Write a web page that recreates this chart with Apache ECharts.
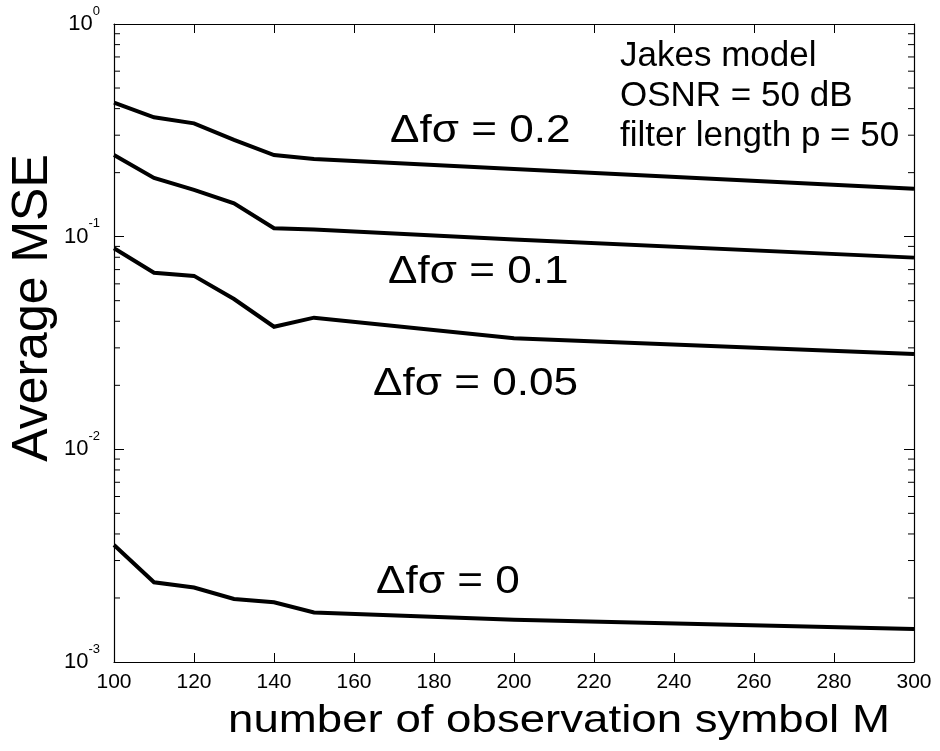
<!DOCTYPE html>
<html>
<head>
<meta charset="utf-8">
<script src="https://cdn.jsdelivr.net/npm/echarts@6/dist/echarts.min.js"></script>
<style>
  html, body { margin: 0; padding: 0; background: #ffffff; }
  #chart { width: 940px; height: 751px; }
</style>
</head>
<body>
<div id="chart"></div>
<script>
// ---- data ----
var symbolsM = [100, 110, 120, 130, 140, 150, 200, 300];
var mseDf02  = [0.427, 0.364, 0.341, 0.285, 0.242, 0.232, 0.208, 0.168];
var mseDf01  = [0.242, 0.189, 0.166, 0.1435, 0.1095, 0.108, 0.097, 0.0797];
var mseDf005 = [0.0882, 0.0677, 0.0654, 0.0509, 0.0377, 0.0416, 0.0333, 0.0281];
var mseDf0   = [0.00355, 0.00237, 0.00224, 0.00198, 0.00191, 0.00171, 0.00158, 0.00143];
var seriesNames = ['\u0394f\u03c3 = 0.2', '\u0394f\u03c3 = 0.1', '\u0394f\u03c3 = 0.05', '\u0394f\u03c3 = 0'];
var xTicks = [100, 120, 140, 160, 180, 200, 220, 240, 260, 280, 300];
var yDecades = [0.001, 0.01, 0.1, 1];
var yMinorTickValues = [];
[0.001, 0.01, 0.1].forEach(function (d) {
  for (var k = 2; k <= 9; k++) yMinorTickValues.push(+(k * d).toPrecision(3));
});
var noteLines = ['Jakes model', 'OSNR = 50 dB', 'filter length p = 50'];
var xTitle = 'number of observation symbol M';
var yTitle = 'Average MSE';

var FONT = "'Liberation Sans', Arial, Helvetica, sans-serif";

function pairs(ys) { return symbolsM.map(function (x, i) { return [x, ys[i]]; }); }

function lineSeries(name, ys) {
  return {
    name: name, type: 'line', data: pairs(ys),
    showSymbol: false, symbol: 'none', silent: true, animation: false,
    lineStyle: { color: '#000', width: 4, join: 'miter' },
    z: 3
  };
}

function expLabel(v) {
  var e = Math.round(Math.log10(v));
  return '{b|10}{s|' + e + '}';
}

function curveLabel(text, x, yMid) {
  return {
    type: 'text', x: x, y: yMid, scaleX: 1.16, silent: true,
    style: { text: text, font: '38px ' + FONT, fill: '#000', align: 'left', verticalAlign: 'middle' }
  };
}

var chart = echarts.init(document.getElementById('chart'), null, { renderer: 'canvas' });

var option = {
  backgroundColor: '#ffffff',
  animation: false,
  grid: { left: 114, top: 24, right: 26, bottom: 89, containLabel: false },
  xAxis: [{
    type: 'value', min: 100, max: 300, interval: 20, position: 'bottom',
    axisLine: { show: true, onZero: false, lineStyle: { color: '#000', width: 1.2 } },
    axisTick: { show: true, inside: true, length: 9, lineStyle: { color: '#000', width: 1 } },
    axisLabel: { show: true, margin: 10, color: '#000', fontSize: 21, fontFamily: FONT },
    splitLine: { show: false }
  }, {
    type: 'value', min: 100, max: 300, interval: 20, position: 'top',
    axisLine: { show: true, onZero: false, lineStyle: { color: '#000', width: 1.2 } },
    axisTick: { show: true, inside: true, length: 9, lineStyle: { color: '#000', width: 1 } },
    axisLabel: { show: false },
    splitLine: { show: false }
  }],
  yAxis: [{
    type: 'log', logBase: 10, min: 0.001, max: 1, position: 'left',
    axisLine: { show: true, onZero: false, lineStyle: { color: '#000', width: 1.2 } },
    axisTick: { show: true, inside: true, length: 10, lineStyle: { color: '#000', width: 1 } },
    axisLabel: {
      show: true, margin: 14, color: '#000', fontFamily: FONT, fontSize: 21,
      formatter: function (v) { return expLabel(v); },
      rich: {
        b: { fontSize: 22, fontFamily: FONT, color: '#000' },
        s: { fontSize: 13, fontFamily: FONT, color: '#000', padding: [0, 0, 26, 0] }
      }
    },
    splitLine: { show: false }
  }, {
    type: 'log', logBase: 10, min: 0.001, max: 1, position: 'right',
    axisLine: { show: true, onZero: false, lineStyle: { color: '#000', width: 1.2 } },
    axisTick: { show: true, inside: true, length: 10, lineStyle: { color: '#000', width: 1 } },
    axisLabel: { show: false },
    splitLine: { show: false }
  }],
  series: [
    lineSeries(seriesNames[0], mseDf02),
    lineSeries(seriesNames[1], mseDf01),
    lineSeries(seriesNames[2], mseDf005),
    lineSeries(seriesNames[3], mseDf0),
    {
      type: 'custom', silent: true, animation: false, clip: false, z: 2,
      data: yMinorTickValues.map(function (v) { return [100, v]; }),
      renderItem: function (params, api) {
        var cs = params.coordSys;
        var p = api.coord([100, api.value(1)]);
        var y = p[1];
        var len = 6;
        return {
          type: 'group',
          children: [
            { type: 'line', shape: { x1: cs.x, y1: y, x2: cs.x + len, y2: y }, style: { stroke: '#000', lineWidth: 1 } },
            { type: 'line', shape: { x1: cs.x + cs.width - len, y1: y, x2: cs.x + cs.width, y2: y }, style: { stroke: '#000', lineWidth: 1 } }
          ]
        };
      }
    }
  ],
  graphic: [
    curveLabel(seriesNames[0], 390, 132),
    curveLabel(seriesNames[1], 388, 273),
    curveLabel(seriesNames[2], 373, 385),
    curveLabel(seriesNames[3], 376, 583),
    { type: 'text', x: 620, y: 56, silent: true, style: { text: noteLines[0], font: '35px ' + FONT, fill: '#000', verticalAlign: 'middle' } },
    { type: 'text', x: 620, y: 96, silent: true, style: { text: noteLines[1], font: '35px ' + FONT, fill: '#000', verticalAlign: 'middle' } },
    { type: 'text', x: 620, y: 136, silent: true, style: { text: noteLines[2], font: '35px ' + FONT, fill: '#000', verticalAlign: 'middle' } },
    { type: 'text', x: 228, y: 721, scaleX: 1.17, silent: true, style: { text: xTitle, font: '39px ' + FONT, fill: '#000', align: 'left', verticalAlign: 'middle' } },
    { type: 'text', x: 33, y: 308, rotation: Math.PI / 2, silent: true, style: { text: yTitle, font: '50px ' + FONT, fill: '#000', align: 'center', verticalAlign: 'middle' } }
  ]
};

chart.setOption(option);
</script>
</body>
</html>
